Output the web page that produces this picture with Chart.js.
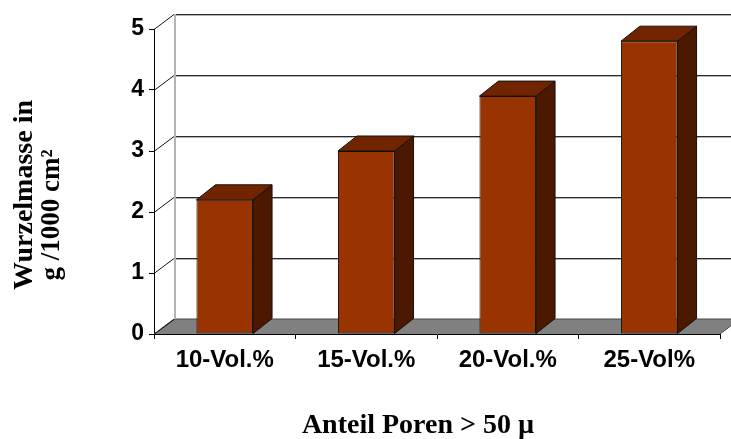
<!DOCTYPE html>
<html>
<head>
<meta charset="utf-8">
<script src="https://cdn.jsdelivr.net/npm/chart.js@4/dist/chart.umd.min.js"></script>
<style>
  html, body { margin: 0; padding: 0; background: #fff; }
  #wrap { width: 731px; height: 439px; }
</style>
</head>
<body>
<div id="wrap"><canvas id="chart" width="731" height="439"></canvas></div>
<script>
// Root mass by share of coarse pores
const categories = ['10-Vol.%', '15-Vol.%', '20-Vol.%', '25-Vol%'];
const rootMass = [2.2, 3.0, 3.9, 4.8];
const yTicks = [0, 1, 2, 3, 4, 5];
const yTitleLines = ['Wurzelmasse in', 'g /1000 cm²'];
const xTitleText = 'Anteil Poren > 50 µ';

// depth of the pseudo-3D box (walls/floor) and of the bars
const WALL_DX = 20, WALL_DY = 15;
const BAR_DX = 19, BAR_DY = 15;

const FRONT = '#993300';
const TOP = '#722400';
const SIDE = '#4c1900';

function poly(ctx, pts, fill, stroke) {
  ctx.beginPath();
  ctx.moveTo(pts[0][0], pts[0][1]);
  for (let i = 1; i < pts.length; i++) ctx.lineTo(pts[i][0], pts[i][1]);
  ctx.closePath();
  if (fill) { ctx.fillStyle = fill; ctx.fill(); }
  if (stroke) { ctx.strokeStyle = stroke; ctx.lineWidth = 1; ctx.stroke(); }
}

const box3d = {
  id: 'box3d',
  beforeDatasetsDraw(chart) {
    const { ctx, chartArea, scales } = chart;
    const { left, right, bottom } = chartArea;
    const y = scales.y;
    ctx.save();
    // floor
    poly(ctx, [[left, bottom], [right, bottom], [right + WALL_DX, bottom - WALL_DY], [left + WALL_DX, bottom - WALL_DY]], '#808080', null);
    ctx.strokeStyle = '#4a4a4a';
    ctx.lineWidth = 1;
    ctx.beginPath();
    ctx.moveTo(left, bottom);
    ctx.lineTo(left + WALL_DX, bottom - WALL_DY);
    ctx.lineTo(right + WALL_DX, bottom - WALL_DY);
    ctx.moveTo(right, bottom);
    ctx.lineTo(right + WALL_DX, bottom - WALL_DY);
    ctx.stroke();

    // back wall gridlines
    yTicks.forEach(v => {
      if (v === 0) return;
      const py = Math.round(y.getPixelForValue(v)) - WALL_DY;
      ctx.fillStyle = '#b4b4b4';
      ctx.fillRect(left + WALL_DX, py + 1, right - left + 40, 1);
      ctx.fillStyle = '#2a2a2a';
      ctx.fillRect(left + WALL_DX, py, right - left + 40, 1);
    });
    // back edge of the side wall
    const yTop = Math.round(y.getPixelForValue(yTicks[yTicks.length - 1])) - WALL_DY;
    ctx.fillStyle = '#b4b4b4';
    ctx.fillRect(left + WALL_DX, yTop, 2, bottom - yTop - WALL_DY);
    // side wall diagonals
    ctx.strokeStyle = '#111';
    ctx.lineWidth = 1;
    yTicks.forEach(v => {
      const py = Math.round(y.getPixelForValue(v)) + 0.5;
      ctx.beginPath();
      ctx.moveTo(left, py);
      ctx.lineTo(left + WALL_DX, py - WALL_DY);
      ctx.stroke();
    });
    ctx.restore();
  },
  afterDatasetsDraw(chart) {
    const { ctx } = chart;
    const meta = chart.getDatasetMeta(0);
    ctx.save();
    ctx.lineJoin = 'round';
    meta.data.forEach(bar => {
      const p = bar.getProps(['x', 'y', 'base', 'width'], true);
      const l = p.x - p.width / 2, r = p.x + p.width / 2;
      // side face
      poly(ctx, [[r, p.y], [r + BAR_DX, p.y - BAR_DY], [r + BAR_DX, p.base - BAR_DY], [r, p.base]], SIDE, '#111');
      // top face
      poly(ctx, [[l, p.y], [r, p.y], [r + BAR_DX, p.y - BAR_DY], [l + BAR_DX, p.y - BAR_DY]], TOP, '#111');
    });
    ctx.restore();
  },
  afterDraw(chart) {
    const { ctx } = chart;
    ctx.save();
    ctx.fillStyle = '#000';
    ctx.font = 'bold 28px "Liberation Serif", "Times New Roman", serif';
    ctx.textAlign = 'center';
    ctx.textBaseline = 'alphabetic';
    // x-axis title
    ctx.fillText(xTitleText, 418, 433);
    // y-axis title, two rotated lines
    ctx.save();
    ctx.translate(32, 195);
    ctx.rotate(-Math.PI / 2);
    ctx.fillText(yTitleLines[0], 0, 0);
    ctx.restore();
    ctx.save();
    ctx.font = 'bold 27px "Liberation Serif", "Times New Roman", serif';
    ctx.translate(59, 215);
    ctx.rotate(-Math.PI / 2);
    ctx.fillText(yTitleLines[1], 0, 0);
    ctx.restore();
    ctx.restore();
  }
};

new Chart(document.getElementById('chart'), {
  type: 'bar',
  data: {
    labels: categories,
    datasets: [{
      data: rootMass,
      backgroundColor: FRONT,
      borderColor: '#111',
      borderWidth: 1,
      borderSkipped: false,
      categoryPercentage: 1.0,
      barPercentage: 0.4
    }]
  },
  options: {
    responsive: false,
    animation: false,
    devicePixelRatio: 1,
    layout: { padding: { top: 29, right: 11, left: 0, bottom: 0 } },
    plugins: { legend: { display: false }, tooltip: { enabled: false } },
    scales: {
      x: {
        z: 1,
        offset: true,
        grid: { drawOnChartArea: false, offset: true, tickLength: 5, color: '#000' },
        border: { color: '#000', width: 1 },
        ticks: {
          color: '#000',
          padding: 7,
          maxRotation: 0,
          autoSkip: false,
          font: { family: '"Liberation Sans", Arial, sans-serif', weight: 'bold', size: 24 }
        },
        afterFit(scale) { scale.height = 105; }
      },
      y: {
        z: 1,
        min: 0,
        max: 5,
        afterBuildTicks(scale) { scale.ticks = yTicks.map(v => ({ value: v })); },
        grid: { drawOnChartArea: false, tickLength: 5, color: '#000' },
        border: { color: '#000', width: 1 },
        ticks: {
          color: '#000',
          padding: 5,
          font: { family: '"Liberation Sans", Arial, sans-serif', weight: 'bold', size: 23 }
        },
        afterFit(scale) { scale.width = 154; }
      }
    }
  },
  plugins: [box3d]
});
</script>
</body>
</html>
